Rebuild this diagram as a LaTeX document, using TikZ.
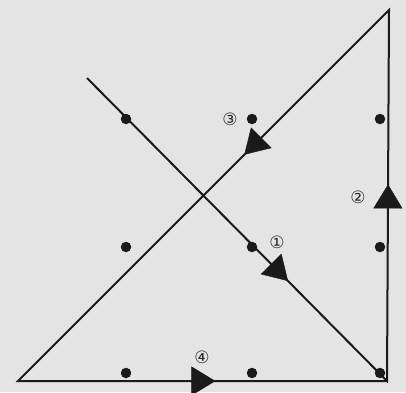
\documentclass[tikz,border=0pt]{standalone}
\usepackage{fontspec}
\usetikzlibrary{arrows.meta,decorations.markings}
\newfontfamily\circfont{DejaVu Sans}
\definecolor{paper}{HTML}{E4E4E4}
\definecolor{ink}{HTML}{1A1A1A}
\definecolor{inkgray}{HTML}{2A2A2A}
\tikzset{
  griddot/.style={circle,fill=ink,inner sep=0pt,minimum size=10.5pt},
  steplabel/.style={font=\circfont\fontsize{17}{17}\selectfont,
                    text=inkgray,inner sep=0pt},
  tourline/.style={draw=ink,line width=2pt,line join=miter},
  midarrow/.style={color=ink,postaction={decorate},
    decoration={markings,
      mark=at position #1 with {\arrow{Triangle[length=24pt,width=29pt]}}}}
}

\begin{document}
\begin{tikzpicture}[x=1pt,y=-1pt]

  % Page background
  \fill[paper] (0,0) rectangle (406,392);
  \useasboundingbox (0,0) rectangle (406,392);

  % Nine dots
  \foreach \c/\x in {1/126,2/252,3/380}
    \foreach \r/\y in {1/119,2/247,3/373}
      \node[griddot] (d\r\c) at (\x,\y) {};

  % Corners of the tour
  \coordinate (start) at (87,78);
  \coordinate (br) at (387,381);
  \coordinate (tr) at (389,10);
  \coordinate (bl) at (18,381);

  % Four strokes
  \draw[tourline] (start) -- (br) -- (tr) -- (bl) -- (br);

  % Direction marks
  \path[midarrow=0.67] (start) -- (br);
  \path[midarrow=0.53] (br) -- (tr);
  \path[midarrow=0.39] (tr) -- (bl);
  \path[midarrow=0.535] (bl) -- (br);

  % Step numbers
  \node[steplabel] (n1) at (277,242) {①};
  \node[steplabel] (n2) at (358,197) {②};
  \node[steplabel] (n3) at (230,119) {③};
  \node[steplabel] (n4) at (202,357) {④};
\end{tikzpicture}
\end{document}
